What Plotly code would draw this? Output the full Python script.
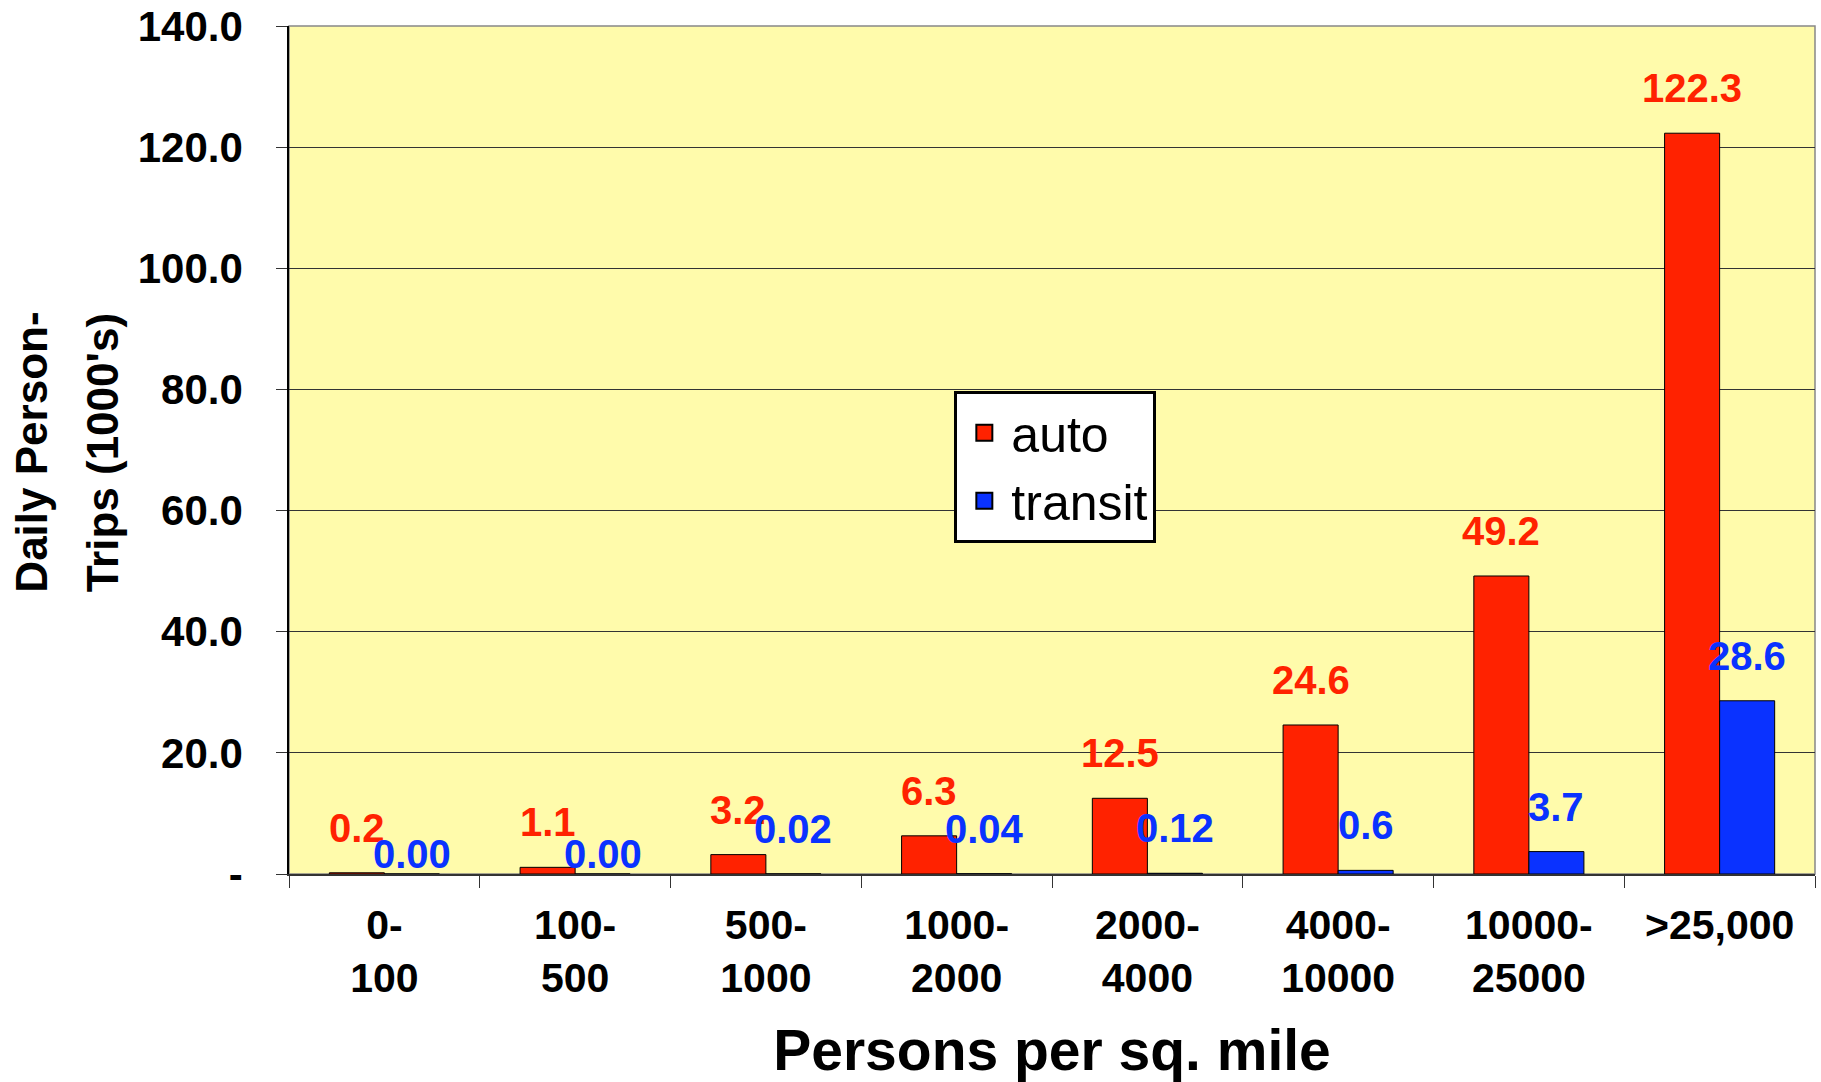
import plotly.graph_objects as go

categories = ["0-<br>100", "100-<br>500", "500-<br>1000", "1000-<br>2000",
              "2000-<br>4000", "4000-<br>10000", "10000-<br>25000", ">25,000"]
auto_values = [0.2, 1.1, 3.2, 6.3, 12.5, 24.6, 49.2, 122.3]
transit_values = [0.0, 0.0, 0.02, 0.04, 0.12, 0.6, 3.7, 28.6]
y_tick_values = [0, 20, 40, 60, 80, 100, 120, 140]
y_tick_labels = ["-", "20.0", "40.0", "60.0", "80.0", "100.0", "120.0", "140.0"]

RED = "#FF2200"
BLUE = "#0A32FF"
FONT = "Liberation Sans, Arial, sans-serif"

fig = go.Figure()
fig.add_trace(go.Bar(x=categories, y=auto_values, name="auto", showlegend=False,
                     marker=dict(color=RED, line=dict(color="black", width=1))))
fig.add_trace(go.Bar(x=categories, y=transit_values, name="transit", showlegend=False,
                     marker=dict(color=BLUE, line=dict(color="black", width=1))))
# legend entries with larger square swatches (no plotted points)
for name, color in (("auto", RED), ("transit", BLUE)):
    fig.add_trace(go.Scatter(x=[None], y=[None], mode="markers", name=name,
                             marker=dict(symbol="square", size=16, color=color,
                                         line=dict(color="black", width=2))))

# bar geometry in pixels for label placement
plot_w = 1821 - 289 - 6
group_w = plot_w / len(categories)
bargap = 0.423
bar_w = group_w * (1 - bargap) / 2

def fmt_transit(v):
    return f"{v:.2f}" if v < 0.5 else f"{v:.1f}"

for cat, v in zip(categories, auto_values):
    fig.add_annotation(x=cat, y=v, text=f"<b>{v:.1f}</b>", showarrow=False,
                       xshift=-bar_w / 2, yshift=45, yanchor="middle",
                       font=dict(family=FONT, size=40, color=RED))
for cat, v in zip(categories, transit_values):
    label = fmt_transit(v)
    fig.add_annotation(x=cat, y=v, text=f"<b>{label}</b>", showarrow=False,
                       xshift=bar_w / 2, yshift=45 if v >= 0.005 else 20,
                       yanchor="middle",
                       font=dict(family=FONT, size=40, color=BLUE))

# y-axis title as two rotated lines
fig.add_annotation(xref="paper", yref="paper", x=-0.1690, y=0.497,
                   text="<b>Daily Person-</b>", textangle=-90, showarrow=False,
                   xanchor="center", yanchor="middle",
                   font=dict(family=FONT, size=44, color="black"))
fig.add_annotation(xref="paper", yref="paper", x=-0.1220, y=0.497,
                   text="<b>Trips (1000's)</b>", textangle=-90, showarrow=False,
                   xanchor="center", yanchor="middle",
                   font=dict(family=FONT, size=44, color="black"))

# plot frame (gray top/right)
fig.add_shape(type="rect", xref="paper", yref="paper", x0=0, y0=0, x1=1, y1=1,
              line=dict(color="#888888", width=1.5), layer="below")

fig.update_layout(
    width=1821, height=1082,
    margin=dict(l=289, r=6, t=26, b=208, autoexpand=False),
    paper_bgcolor="white",
    plot_bgcolor="#FFFBAB",
    barmode="group",
    bargap=bargap,
    bargroupgap=0,
    font=dict(family=FONT, color="black"),
    showlegend=True,
    legend=dict(x=0.436, y=0.570, xanchor="left", yanchor="top",
                bgcolor="white", bordercolor="black", borderwidth=3,
                font=dict(family=FONT, size=50, color="black"),
                itemwidth=44, tracegroupgap=0, itemsizing="trace"),
    xaxis=dict(
        type="category", automargin=False,
        showline=True, linecolor="#333333", linewidth=1.5,
        ticks="outside", tickson="boundaries", ticklen=12, tickcolor="#333333",
        tickfont=dict(family=FONT, size=41, color="black"),
        ticklabelstandoff=14,
        tickprefix="<b>", ticksuffix="</b>",
        title=dict(text="<b>Persons per sq. mile</b>",
                   font=dict(family=FONT, size=57, color="black"), standoff=45),
        showgrid=False,
    ),
    yaxis=dict(
        range=[0, 140], automargin=False,
        tickvals=y_tick_values, ticktext=[f"<b>{t}</b>" for t in y_tick_labels],
        tickfont=dict(family=FONT, size=42, color="black"),
        ticklabelstandoff=25,
        showline=True, linecolor="black", linewidth=1.5,
        ticks="outside", ticklen=11, tickcolor="#333333",
        showgrid=True, gridcolor="#333333", gridwidth=1,
        zeroline=False,
    ),
)

fig.write_html("out.html", config={"displayModeBar": False},
               post_script="document.body.style.margin='0px';")
